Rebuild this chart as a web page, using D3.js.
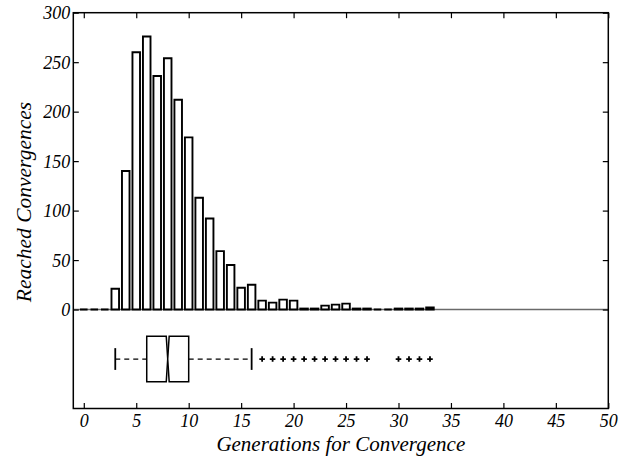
<!DOCTYPE html>
<html>
<head>
<meta charset="utf-8">
<script src="https://cdn.jsdelivr.net/npm/d3@7"></script>
<style>
  html, body { margin: 0; padding: 0; background: #fff; }
  svg text { font-family: "Liberation Serif", "DejaVu Serif", serif; font-style: italic; fill: #000; }
</style>
</head>
<body>
<svg id="chart" width="619" height="457"></svg>
<script>
// ---- data ----
const generations = d3.range(0, 34);
const counts = [0, 0, 0, 21, 140, 260, 276, 236, 254, 212, 174, 113, 92, 59, 45, 22, 25,
                9, 7, 10, 9, 1, 1, 4, 5, 6, 1, 1, 0, 0, 1, 1, 1, 2];
const boxStats = { whiskerLow: 3, q1: 6, median: 8, q3: 10, whiskerHigh: 16, notchLow: 7.86, notchHigh: 8.14 };
const outliers = [17, 18, 19, 20, 21, 22, 23, 24, 25, 26, 27, 30, 31, 32, 33];
const xTicks = [0, 5, 10, 15, 20, 25, 30, 35, 40, 45, 50];
const yTicks = [0, 50, 100, 150, 200, 250, 300];
const xLabel = "Generations for Convergence";
const yLabel = "Reached Convergences";

// ---- layout ----
const svg = d3.select("#chart");
const mLeft = 73.3, mRight = 608.3, mTop = 12.7, mBottom = 408.5;
const x = d3.scaleLinear().domain([-1, 50]).range([mLeft, mRight]);
const y = d3.scaleLinear().domain([-100, 300]).range([mBottom, mTop]);

// zero line
svg.append("line")
  .attr("x1", mLeft).attr("x2", mRight)
  .attr("y1", y(0)).attr("y2", y(0))
  .attr("stroke", "#6a6a6a").attr("stroke-width", 1.5);

// histogram bars (paths so that zero-height bins still show their outline)
const hw = 0.36;
svg.append("g").selectAll("path")
  .data(generations.map((g, i) => ({ g, c: counts[i] })))
  .join("path")
  .attr("d", d => {
    const x0 = x(d.g - hw), x1 = x(d.g + hw), y0 = y(0), y1 = y(d.c);
    return `M${x0},${y0}V${y1}H${x1}V${y0}Z`;
  })
  .attr("fill", "#fff")
  .attr("stroke", "#000")
  .attr("stroke-width", 1.9)
  .attr("stroke-linejoin", "miter");

// box plot
const bc = -50, bh = 23, capH = 11;
const bp = svg.append("g").attr("stroke", "#000").attr("fill", "none");
// whiskers (dashed)
bp.append("line").attr("x1", x(boxStats.whiskerLow)).attr("x2", x(boxStats.q1))
  .attr("y1", y(bc)).attr("y2", y(bc)).attr("stroke-width", 1.3).attr("stroke-dasharray", "5,4");
bp.append("line").attr("x1", x(boxStats.q3)).attr("x2", x(boxStats.whiskerHigh))
  .attr("y1", y(bc)).attr("y2", y(bc)).attr("stroke-width", 1.3).attr("stroke-dasharray", "5,4");
// caps
[boxStats.whiskerLow, boxStats.whiskerHigh].forEach(v => {
  bp.append("line").attr("x1", x(v)).attr("x2", x(v))
    .attr("y1", y(bc + capH)).attr("y2", y(bc - capH)).attr("stroke-width", 1.8);
});
// notched box
const yt = y(bc + bh), yb = y(bc - bh), ym = y(bc);
const pathL = d3.path();
pathL.moveTo(x(boxStats.notchLow), yt);
pathL.lineTo(x(boxStats.q1), yt);
pathL.lineTo(x(boxStats.q1), yb);
pathL.lineTo(x(boxStats.notchLow), yb);
pathL.lineTo(x(boxStats.median), ym);
pathL.closePath();
const pathR = d3.path();
pathR.moveTo(x(boxStats.notchHigh), yt);
pathR.lineTo(x(boxStats.q3), yt);
pathR.lineTo(x(boxStats.q3), yb);
pathR.lineTo(x(boxStats.notchHigh), yb);
pathR.lineTo(x(boxStats.median), ym);
pathR.closePath();
bp.append("path").attr("d", pathL.toString()).attr("stroke-width", 1.5).attr("fill", "#fff");
bp.append("path").attr("d", pathR.toString()).attr("stroke-width", 1.5).attr("fill", "#fff");
// outliers
const ps = 2.8;
bp.selectAll("path.out").data(outliers).join("path").attr("class", "out")
  .attr("d", d => `M${x(d) - ps},${y(bc)}H${x(d) + ps}M${x(d)},${y(bc) - ps}V${y(bc) + ps}`)
  .attr("stroke-width", 1.8);

// axes (frame with inward ticks)
const tl = 5.5;
const axB = svg.append("g").attr("transform", `translate(0,${mBottom})`)
  .call(d3.axisBottom(x).tickValues(xTicks).tickSizeInner(-tl).tickSizeOuter(0).tickPadding(6.5).tickFormat(d3.format("d")));
const axT = svg.append("g").attr("transform", `translate(0,${mTop})`)
  .call(d3.axisTop(x).tickValues(xTicks).tickSizeInner(-tl).tickSizeOuter(0).tickFormat(""));
const axL = svg.append("g").attr("transform", `translate(${mLeft},0)`)
  .call(d3.axisLeft(y).tickValues(yTicks).tickSizeInner(-tl).tickSizeOuter(0).tickPadding(3).tickFormat(d3.format("d")));
const axR = svg.append("g").attr("transform", `translate(${mRight},0)`)
  .call(d3.axisRight(y).tickValues(yTicks).tickSizeInner(-tl).tickSizeOuter(0).tickFormat(""));
[axB, axT, axL, axR].forEach(a => {
  a.select(".domain").remove();
  a.selectAll(".tick line").attr("stroke", "#000").attr("stroke-width", 1.2);
  a.selectAll(".tick text").attr("font-size", 18).attr("font-family", null);
});
axB.selectAll(".tick text").attr("dy", "0.66em");
axL.selectAll(".tick text").attr("dy", "0.34em");
// frame
svg.append("rect").attr("x", mLeft).attr("y", mTop)
  .attr("width", mRight - mLeft).attr("height", mBottom - mTop)
  .attr("fill", "none").attr("stroke", "#000").attr("stroke-width", 1.5);

// labels
svg.append("text").attr("x", (mLeft + mRight) / 2).attr("y", 451)
  .attr("text-anchor", "middle").attr("font-size", 21).text(xLabel);
svg.append("text").attr("transform", `translate(31,202) rotate(-90)`)
  .attr("text-anchor", "middle").attr("font-size", 21.5).text(yLabel);
</script>
</body>
</html>
